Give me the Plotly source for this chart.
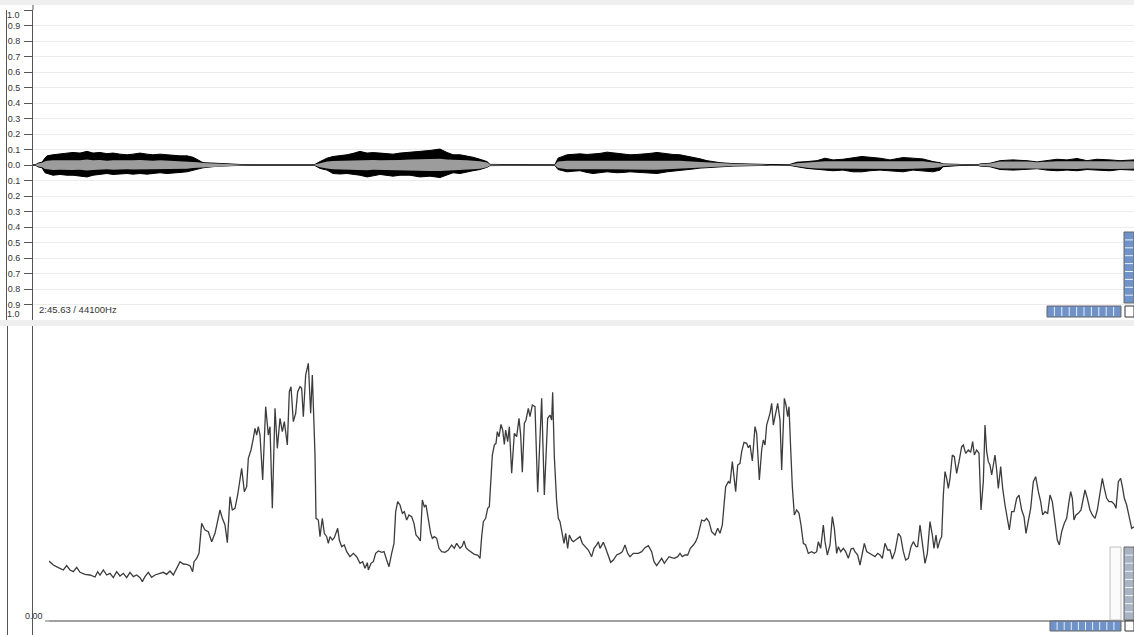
import plotly.graph_objects as go

# ---------------- top panel: waveform envelope (amplitude, -1..1) ----------------
wave_t = [0, 2, 5, 9, 12, 14, 20, 27, 34, 40, 47, 54, 60, 67, 74, 80, 87, 94, 100, 107,
          114, 120, 127, 134, 140, 147, 154, 160, 165, 170, 184, 197, 214, 217,
          280, 282, 287, 294, 300, 307, 314, 320, 327, 334, 340, 347, 354, 360, 367, 377,
          387, 397, 407, 414, 420, 427, 434, 440, 447, 454, 457, 472, 490, 493,
          520, 522, 525, 534, 540, 547, 554, 560, 567, 574, 584, 590, 597, 604, 610, 617,
          624, 634, 640, 647, 654, 660, 667, 674, 687, 700, 734, 737,
          755, 757, 764, 774, 784, 792, 800, 810, 820, 829, 837, 847, 857, 870, 880, 890,
          900, 907, 910, 927, 930,
          945, 947, 957, 967, 974, 980, 987, 994, 1004, 1014, 1024, 1034, 1044, 1054, 1064,
          1077, 1087, 1101]
peak_up = [0, 0, .012, .018, .045, .059, .066, .070, .077, .081, .077, .088, .077, .081, .073, .077, .070, .066, .070, .077,
           .070, .066, .070, .066, .061, .059, .059, .050, .033, .015, .011, .006, .002, 0,
           0, .004, .022, .044, .055, .060, .066, .075, .088, .077, .080, .077, .072, .070, .077, .081,
           .088, .094, .103, .081, .066, .066, .059, .050, .037, .022, .004, .003, .002, 0,
           0, .004, .044, .066, .070, .072, .068, .070, .075, .083, .077, .072, .066, .068, .070, .075,
           .081, .072, .068, .066, .058, .050, .040, .028, .015, .009, .002, 0,
           0, .004, .018, .022, .028, .044, .033, .037, .044, .055, .050, .044, .033, .048, .044, .039,
           .022, .015, .007, .002, 0,
           0, .007, .011, .028, .030, .033, .030, .028, .020, .028, .037, .033, .042, .028, .037,
           .033, .028, .033]
peak_lo = [0, 0, .012, .018, .050, .055, .066, .061, .066, .066, .070, .077, .066, .059, .055, .061, .059, .055, .059, .055,
           .059, .055, .050, .055, .050, .048, .044, .033, .025, .018, .008, .004, .001, 0,
           0, .004, .022, .033, .055, .058, .055, .060, .066, .077, .070, .061, .066, .072, .066, .066,
           .077, .072, .081, .066, .050, .055, .044, .037, .029, .015, .004, .002, .001, 0,
           0, .004, .029, .044, .040, .037, .048, .055, .050, .044, .050, .048, .044, .048, .050, .052,
           .055, .044, .040, .033, .030, .026, .020, .015, .011, .007, .002, 0,
           0, .004, .011, .022, .029, .033, .037, .033, .044, .044, .037, .033, .037, .044, .033, .037,
           .044, .033, .011, .003, 0,
           0, .007, .011, .029, .031, .033, .030, .029, .024, .033, .037, .033, .037, .029, .033,
           .037, .029, .033]
rms_up = [0, 0, .010, .014, .025, .028, .030, .030, .032, .030, .031, .035, .030, .032, .028, .031, .029, .027, .030, .032,
          .029, .028, .030, .028, .027, .026, .025, .022, .018, .013, .010, .005, .001, 0,
          0, .003, .015, .022, .026, .028, .030, .031, .034, .032, .033, .031, .030, .030, .032, .035,
          .038, .038, .040, .036, .033, .033, .031, .030, .025, .016, .004, .002, .001, 0,
          0, .004, .022, .028, .028, .029, .028, .029, .029, .030, .029, .028, .028, .028, .029, .030,
          .031, .029, .028, .027, .025, .023, .020, .017, .012, .008, .002, 0,
          0, .004, .012, .018, .022, .024, .024, .025, .026, .027, .026, .025, .024, .026, .025, .024,
          .018, .012, .006, .002, 0,
          0, .006, .010, .022, .023, .024, .023, .022, .018, .022, .025, .024, .025, .022, .025,
          .024, .022, .024]
rms_lo = [0, 0, .010, .014, .025, .030, .032, .030, .030, .033, .030, .036, .032, .029, .028, .030, .030, .027, .029, .028,
          .030, .027, .026, .028, .026, .025, .024, .020, .017, .013, .008, .004, .001, 0,
          0, .003, .015, .022, .028, .029, .030, .031, .033, .034, .031, .030, .030, .031, .031, .034,
          .037, .038, .039, .035, .032, .033, .030, .028, .024, .014, .004, .002, .001, 0,
          0, .004, .020, .027, .027, .027, .028, .029, .028, .028, .029, .028, .027, .028, .029, .030,
          .031, .028, .027, .026, .024, .022, .019, .016, .011, .007, .002, 0,
          0, .004, .010, .018, .022, .024, .025, .024, .026, .027, .026, .025, .025, .026, .024, .024,
          .020, .015, .007, .002, 0,
          0, .006, .010, .022, .023, .024, .023, .022, .019, .023, .025, .024, .025, .022, .024,
          .025, .022, .024]
amp_ticks = [-1.0, -0.9, -0.8, -0.7, -0.6, -0.5, -0.4, -0.3, -0.2, -0.1, 0.0,
             0.1, 0.2, 0.3, 0.4, 0.5, 0.6, 0.7, 0.8, 0.9, 1.0]
amp_labels = ["", "0.9", "0.8", "0.7", "0.6", "0.5", "0.4", "0.3", "0.2", "0.1", "0.0",
              "0.1", "0.2", "0.3", "0.4", "0.5", "0.6", "0.7", "0.8", "0.9", ""]
info_text = "2:45.63 / 44100Hz"

# ---------------- bottom panel: analysis curve ----------------
frames = [0, 13, 28, 43, 53, 63, 73, 83, 93, 108,
          123, 138, 146, 153, 163, 173, 183, 193, 203, 213,
          223, 233, 243, 253, 263, 273, 280, 288, 298, 308,
          318, 333, 343, 353, 363, 373, 383, 393, 403, 413,
          423, 431, 435, 443, 450, 458, 463, 468, 478, 488,
          498, 506, 513, 520, 528, 535, 543, 550, 558, 566,
          573, 578, 586, 593, 598, 606, 613, 618, 623, 628,
          633, 641, 650, 658, 663, 670, 678, 685, 693, 700,
          706, 715, 721, 726, 733, 740, 746, 753, 758, 763,
          770, 778, 785, 790, 798, 801, 808, 813,
          820, 826, 833, 838, 843, 850, 856, 866, 871, 878,
          886, 893, 903, 913, 923, 933, 941, 948, 955, 958,
          966, 973, 980, 988, 998, 1005, 1013, 1020, 1028, 1035,
          1040, 1046, 1053, 1060, 1066, 1073, 1080, 1088, 1095, 1101,
          1108, 1114, 1120, 1126, 1131, 1138, 1145, 1150, 1156, 1163,
          1170, 1178, 1188, 1198, 1208, 1216, 1223, 1233, 1240, 1245,
          1251, 1258, 1266, 1276, 1286, 1293, 1298, 1303, 1310, 1316,
          1321, 1325, 1330, 1336, 1341, 1345, 1350, 1356, 1361, 1366,
          1370, 1376, 1381, 1388, 1396, 1403, 1410, 1415, 1420, 1426,
          1431, 1438, 1443, 1450, 1458, 1466, 1478, 1486, 1496, 1503,
          1508, 1511, 1516, 1523, 1528, 1533, 1540, 1545, 1550, 1556,
          1561, 1568, 1573, 1580, 1593, 1600,
          1608, 1618, 1628, 1635, 1643, 1648, 1653, 1663, 1670, 1678,
          1685, 1693, 1703, 1713, 1720, 1728, 1736, 1743, 1753, 1768,
          1778, 1788, 1798, 1808, 1815, 1823, 1830, 1838, 1846, 1853,
          1860, 1868, 1876, 1886, 1893, 1900, 1908, 1916, 1924, 1933,
          1940, 1946, 1951, 1958, 1966, 1973, 1980, 1988, 1998, 2006,
          2013, 2020, 2026, 2030, 2038, 2043, 2050, 2056, 2060, 2066,
          2073, 2078, 2085, 2093, 2098, 2103, 2110, 2118, 2123, 2131,
          2138, 2143, 2148, 2153, 2158, 2163, 2168, 2173, 2180, 2186,
          2193, 2198, 2206, 2211, 2216, 2220, 2225, 2230, 2236, 2243,
          2250, 2256, 2263, 2270, 2278, 2288, 2296, 2303, 2308, 2315,
          2323, 2328, 2335, 2343, 2350, 2356, 2363, 2368, 2375, 2383,
          2390, 2398, 2406, 2413,
          2418, 2426, 2433, 2440, 2446, 2453, 2460, 2470, 2478, 2486,
          2493, 2500, 2508, 2516, 2523, 2530, 2538, 2548, 2555, 2563,
          2570, 2578, 2586, 2593, 2601, 2606, 2613, 2620, 2628, 2635,
          2643, 2650, 2655, 2661, 2666, 2673, 2678, 2683, 2688, 2693,
          2698, 2703, 2710, 2716, 2723, 2730, 2738, 2743, 2750, 2758,
          2765, 2771, 2776, 2783, 2790, 2796, 2803, 2808, 2813, 2818,
          2823, 2828, 2833, 2838, 2843, 2848, 2855, 2861, 2868, 2875,
          2881, 2888, 2895, 2903, 2910, 2918, 2925, 2931, 2938, 2945,
          2953, 2960, 2968, 2975, 2981, 2988, 2996, 3003, 3010, 3018,
          3025, 3031, 3038, 3046, 3053, 3060, 3065, 3070, 3075, 3081,
          3088, 3096, 3103, 3108, 3115, 3123, 3130, 3138, 3145, 3153,
          3160, 3166, 3173, 3180, 3188, 3196, 3201, 3208, 3215, 3221,
          3226, 3233, 3240, 3248, 3255]
energy = [180, 168, 160, 153, 166, 153, 148, 161, 146, 140,
          138, 132, 148, 138, 153, 138, 143, 130, 148, 135,
          143, 130, 146, 133, 138, 130, 118, 133, 146, 131,
          138, 143, 146, 140, 150, 138, 158, 178, 171, 170,
          166, 148, 178, 188, 203, 293, 283, 273, 268, 238,
          263, 298, 333, 308, 288, 235, 373, 333, 338, 378,
          423, 458, 388, 403, 488, 513, 548, 578, 558, 583,
          558, 423, 643, 558, 583, 338, 638, 518, 608, 568,
          598, 528, 688, 703, 598, 623, 688, 703, 698, 613,
          738, 773, 623, 738, 498, 308, 303, 253,
          308, 263, 253, 233, 253, 243, 250, 278, 243, 223,
          228, 208, 193, 203, 193, 173, 178, 158, 175, 153,
          173, 178, 203, 210, 206, 208, 183, 163, 203, 233,
          328, 358, 348, 323, 328, 303, 318, 313, 293, 258,
          250, 240, 363, 343, 348, 308, 263, 248, 253, 248,
          218, 208, 206, 213, 228, 218, 233, 218, 225, 240,
          220, 213, 208, 200, 198, 188, 253, 298, 308, 338,
          343, 403, 498, 528, 533, 568, 553, 590, 573, 530,
          573, 538, 583, 443, 563, 553, 608, 558, 446, 593,
          603, 638, 613, 648, 643, 386, 668, 378, 608, 618,
          603, 686, 493, 358, 308, 298, 253, 233, 263, 218,
          258, 243, 238, 243, 253, 233,
          223, 213, 193, 218, 228, 238, 218, 236, 218, 198,
          176, 183, 198, 203, 208, 228, 203, 193, 203, 203,
          208, 220, 226, 208, 178, 166, 178, 188, 173, 183,
          193, 190, 188, 193, 203, 193, 198, 198, 218, 228,
          238, 253, 278, 303, 300, 308, 298, 268, 258, 278,
          263, 288, 358, 403, 418, 413, 478, 423, 388, 468,
          473, 508, 536, 533, 520, 528, 480, 583, 563, 423,
          513, 543, 528, 588, 608, 623, 653, 588, 623, 653,
          603, 453, 668, 648, 613, 643, 518, 403, 318, 333,
          323, 288, 233, 228, 203, 208, 203, 208, 238, 218,
          288, 238, 198, 228, 313, 278, 203, 223, 208, 218,
          208, 188, 216, 218,
          208, 198, 168, 198, 233, 208, 203, 198, 193, 203,
          198, 188, 233, 213, 213, 186, 208, 263, 253, 208,
          183, 188, 223, 238, 223, 223, 288, 228, 173, 203,
          298, 258, 218, 258, 218, 243, 253, 378, 448, 428,
          398, 428, 498, 493, 443, 478, 523, 528, 503, 513,
          506, 538, 498, 513, 503, 333, 418, 588, 508, 478,
          468, 438, 468, 498, 453, 398, 463, 398, 348, 308,
          273, 328, 328, 368, 378, 333, 313, 263, 298, 338,
          418, 433, 388, 358, 318, 328, 323, 378, 358, 298,
          243, 228, 268, 293, 308, 358, 388, 368, 303, 318,
          323, 333, 373, 393, 368, 333, 318, 308, 333, 378,
          428, 398, 368, 358, 358, 350, 338, 418, 428, 398,
          368, 348, 318, 278, 283]
zero_label = "0.00"

assert len(wave_t) == len(peak_up) == len(peak_lo) == len(rms_up) == len(rms_lo)
assert len(frames) == len(energy)

W, H = 1134, 635
def px(x):
    return x / W
def py(y):
    return 1 - y / H

fig = go.Figure()

# black peak envelope
fig.add_trace(go.Scatter(
    x=wave_t + wave_t[::-1],
    y=peak_up + [-v for v in peak_lo][::-1],
    fill="toself", fillcolor="#000000", mode="lines",
    line=dict(color="#000000", width=1), hoverinfo="skip",
    xaxis="x", yaxis="y", showlegend=False))
# grey rms envelope
fig.add_trace(go.Scatter(
    x=wave_t + wave_t[::-1],
    y=rms_up + [-v for v in rms_lo][::-1],
    fill="toself", fillcolor="#9c9c9c", mode="lines",
    line=dict(color="#9c9c9c", width=0), hoverinfo="skip",
    xaxis="x", yaxis="y", showlegend=False))
# analysis curve
fig.add_trace(go.Scatter(
    x=frames, y=energy, mode="lines",
    line=dict(color="#3c3c3c", width=1.3),
    xaxis="x2", yaxis="y2", showlegend=False, hoverinfo="skip"))

font = dict(family="Liberation Sans", size=9, color="#333333")

fig.update_layout(
    width=W, height=H,
    margin=dict(l=0, r=0, t=0, b=0),
    paper_bgcolor="white", plot_bgcolor="white",
    xaxis=dict(domain=[px(33), 1], range=[0, 1101], visible=False),
    yaxis=dict(domain=[py(320), py(10)], range=[-1, 1],
               tickvals=amp_ticks, ticktext=amp_labels,
               ticks="outside", ticklen=8, tickcolor="#555555", tickwidth=1,
               ticklabelstandoff=2,
               showline=True, linecolor="#555555", linewidth=1,
               showgrid=True, gridcolor="#ececec", gridwidth=1,
               zeroline=False, tickfont=font),
    xaxis2=dict(domain=[px(49), 1], range=[0, 3255], visible=False),
    yaxis2=dict(domain=[0, py(326)], range=[-42, 885],
                showline=True, linecolor="#555555", linewidth=1,
                showgrid=False, showticklabels=False, ticks="",
                zeroline=True, zerolinecolor="#a0a0a0", zerolinewidth=1.5),
)

ann = [
    dict(x=px(22), y=py(15), xref="paper", yref="paper", text="1.0", showarrow=False,
         xanchor="right", yanchor="middle", font=font),
    dict(x=px(22), y=py(314), xref="paper", yref="paper", text="1.0", showarrow=False,
         xanchor="right", yanchor="middle", font=font),
    dict(x=px(37), y=py(309), xref="paper", yref="paper", text=info_text, showarrow=False,
         xanchor="left", yanchor="middle", font=dict(family="Liberation Sans", size=9.5, color="#333333")),
    dict(x=px(45), y=py(616), xref="paper", yref="paper", text=zero_label, showarrow=False,
         xanchor="right", yanchor="middle", font=font),
]
fig.update_layout(annotations=ann)

def rect(x0, y0, x1, y1, fill, line="rgba(0,0,0,0)", lw=1):
    return dict(type="rect", xref="paper", yref="paper", x0=px(x0), x1=px(x1), y0=py(y1), y1=py(y0),
                fillcolor=fill, line=dict(color=line, width=lw), layer="above")

def seg(x0, y0, x1, y1, color="#555555", lw=1):
    return dict(type="line", xref="paper", yref="paper", x0=px(x0), x1=px(x1), y0=py(y0), y1=py(y1),
                line=dict(color=color, width=lw), layer="above")

shapes = [
    rect(0, 0, 1134, 5, "#efefef"),
    rect(0, 320, 1134, 326, "#efefef"),
    seg(6.5, 10, 6.5, 320),
    seg(7.5, 326, 7.5, 635),
    seg(33, 5, 33, 10),
    seg(45, 621, 49, 621, "#a0a0a0", 1.5),
    # top panel widgets
    rect(1124, 232, 1134, 303, "#6f93c9", "#666666"),
    rect(1047, 306, 1121, 317, "#6f93c9", "#666666"),
    rect(1125, 306, 1134, 317, "#ffffff", "#333333"),
    # bottom panel widgets
    rect(1110, 547, 1121, 620, "#fbfbfb", "#c0c0c0"),
    rect(1124, 547, 1134, 620, "#a9b3c2", "#666666"),
    rect(1050, 621, 1121, 631, "#6f93c9", "#666666"),
    rect(1125, 621, 1134, 631, "#ffffff", "#333333"),
]
for k in range(1, 10):
    shapes.append(seg(1047 + k * 7.4, 307, 1047 + k * 7.4, 316, "#e8eef8", 1))
    shapes.append(seg(1050 + k * 7.1, 622, 1050 + k * 7.1, 630, "#e8eef8", 1))
for k in range(1, 9):
    shapes.append(seg(1125, 232 + k * 7.9, 1133, 232 + k * 7.9, "#e8eef8", 1))
    shapes.append(seg(1125, 547 + k * 8.1, 1133, 547 + k * 8.1, "#f2f2f2", 1))
fig.update_layout(shapes=shapes)

fig.write_html("out.html", config={"displayModeBar": False})

# remove the browser's default page margin so the figure sits at the window origin
with open("out.html", "r", encoding="utf-8") as f:
    html = f.read()
html = html.replace("<body>", '<body style="margin:0;padding:0;overflow:hidden">', 1)
with open("out.html", "w", encoding="utf-8") as f:
    f.write(html)
